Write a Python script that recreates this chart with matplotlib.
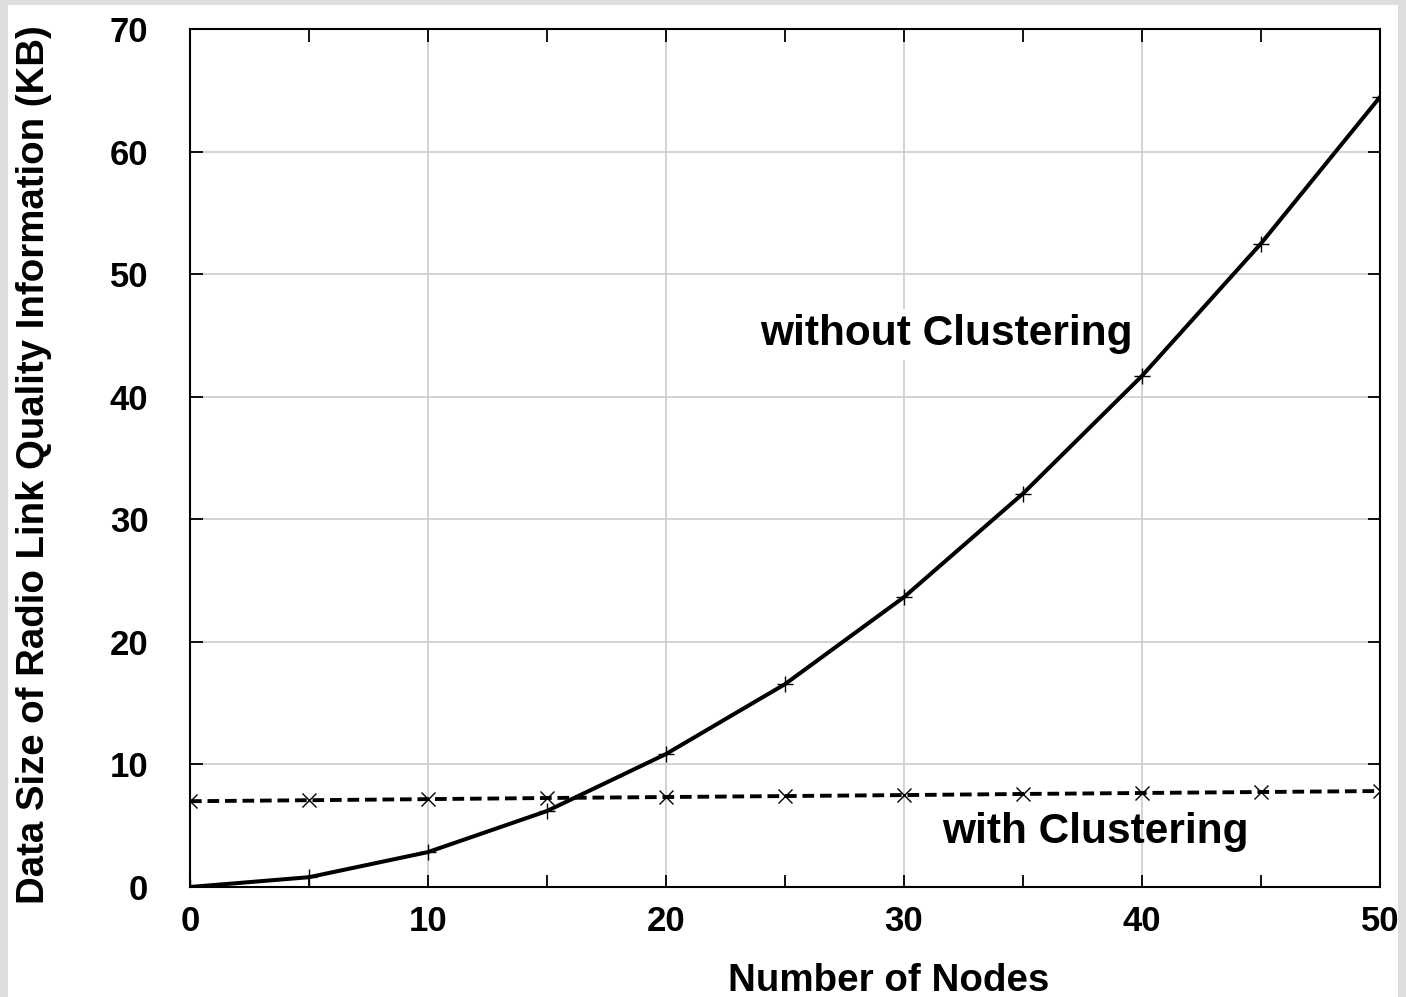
import numpy as np
import matplotlib.pyplot as plt
from matplotlib.patches import Rectangle

nodes = [0, 5, 10, 15, 20, 25, 30, 35, 40, 45, 50]
without_clustering = [0.0, 0.8, 2.85, 6.2, 10.85, 16.55, 23.65, 32.1, 41.7, 52.5, 64.45]
with_clustering = [7.0, 7.08, 7.17, 7.26, 7.34, 7.42, 7.5, 7.59, 7.67, 7.75, 7.83]

plt.rcParams['font.family'] = ['Liberation Sans', 'DejaVu Sans']
plt.rcParams['font.weight'] = 'bold'

fig = plt.figure(figsize=(14.06, 9.97), dpi=100, facecolor='#dddddd')
# white sheet inside the grey frame
fig.patches.append(Rectangle((8 / 1406, 0), 1390 / 1406, 992 / 997,
                             transform=fig.transFigure, facecolor='white',
                             edgecolor='none', zorder=-10))
ax = fig.add_axes([190 / 1406, 110 / 997, 1190 / 1406, 858 / 997])
ax.set_facecolor('none')

ax.plot(nodes, without_clustering, color='black', lw=2.9, marker='+',
        ms=11, mew=1.0, zorder=3)
ax.plot(nodes, with_clustering, color='black', lw=2.8, ls=(0, (3, 1.5)),
        marker='x', ms=10, mew=1.0, zorder=3)

ax.set_xlim(0, 50)
ax.set_ylim(0, 70)
ax.set_xticks(range(0, 51, 10))
ax.set_xticks(range(5, 50, 10), minor=True)
ax.set_yticks(range(0, 71, 10))
ax.grid(True, which='major', color='#cccccc', lw=1.2, zorder=0)
ax.tick_params(which='both', direction='in', length=9, width=1.3,
               top=True, right=True, labelsize=25)
ax.tick_params(axis='x', pad=13)
ax.tick_params(axis='y', pad=30)
for s in ax.spines.values():
    s.set_linewidth(1.5)

ax.set_xlabel('Number of Nodes', fontsize=27.7, fontweight='bold')
ax.xaxis.set_label_coords(0.587, -0.089)
ax.set_ylabel('Data Size of Radio Link Quality Information (KB)', fontsize=27.6,
              fontweight='bold')
ax.yaxis.set_label_coords(-0.116, 0.492)

ax.text(23.95, 44.2, 'without Clustering', fontsize=30.5, fontweight='bold',
        ha='left', va='baseline', zorder=4,
        bbox=dict(facecolor='white', edgecolor='none', pad=4))
ax.text(31.6, 3.55, 'with Clustering', fontsize=30.5, fontweight='bold',
        ha='left', va='baseline', zorder=2)

fig.savefig('out.png', dpi=100, facecolor=fig.get_facecolor())
